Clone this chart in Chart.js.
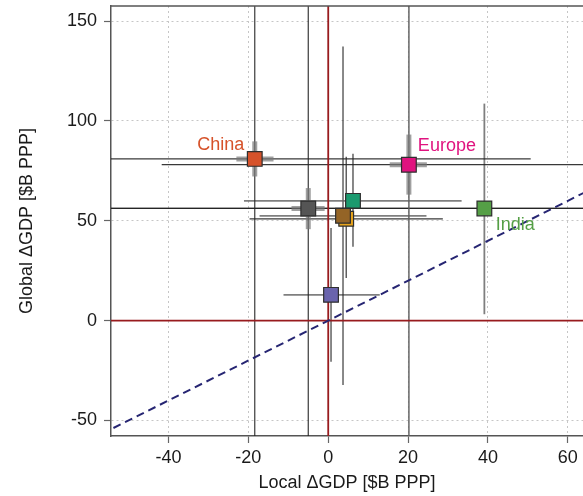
<!DOCTYPE html>
<html>
<head>
<meta charset="utf-8">
<script src="https://cdn.jsdelivr.net/npm/chart.js@4/dist/chart.umd.min.js"></script>
<style>
  html, body { margin: 0; padding: 0; background: #fff; overflow: hidden; }
  canvas { display: block; }
</style>
</head>
<body>
<canvas id="gdp" width="583" height="496"></canvas>
<script>
// regions (unlabelled ones are null)
const regions = ['China', 'Europe', 'India', null, null, null, null, null];
// central estimates
const localGdp  = [-18.4, 20.2, 39.1, -5.0, 6.2, 4.5, 3.7, 0.7];
const globalGdp = [81.0, 78.1, 56.2, 56.2, 60.0, 51.0, 52.5, 12.9];
// wide ranges (thin bars); +-200 means the range runs off the plot
const localLo  = [-200, -41.7, -200, -200, -21.1, -19.7, -17.2, -11.2];
const localHi  = [50.7, 200, 200, 200, 33.4, 28.7, 24.6, 12.9];
const globalLo = [-200, -200, 3.2, -200, 37.0, 21.4, -32.2, -20.6];
const globalHi = [200, 200, 108.7, 200, 83.6, 82.1, 137.3, 46.4];
// inner ranges (thick grey bars), only for some regions
const localQLo  = [-23.0, 15.4, null, -9.2, null, null, null, null];
const localQHi  = [-13.7, 24.7, null, -0.9, null, null, null, null];
const globalQLo = [72.2, 63.1, null, 45.8, null, null, null, null];
const globalQHi = [89.8, 93.2, null, 66.4, null, null, null, null];

const xTicks = [-40, -20, 0, 20, 40, 60];
const yTicks = [-50, 0, 50, 100, 150];

const colors = ['#d6522a', '#e0137f', '#559f46', '#555555', '#1b9a6f', '#e8a41c', '#946426', '#6a64ad'];
const dark = 'rgba(35,35,35,0.9)';
const soft = 'rgba(95,95,95,0.8)';
const hLine = [dark, dark, dark, dark, soft, dark, soft, soft];
const vLine = [dark, soft, soft, dark, dark, dark, dark, dark];
// label offsets from the marker, px
const labelShift = [[-34, -9], [38, -14], [31, 22]];

const font = '"Liberation Sans", Arial, sans-serif';

function seg(p1, p2, color, width, order, dash) {
  return {
    type: 'scatter', showLine: true, data: [p1, p2],
    borderColor: color, borderWidth: width, borderDash: dash || [],
    pointRadius: 0, pointHoverRadius: 0, order: order
  };
}

const datasets = [];
// squares on top (lowest order is drawn last)
datasets.push({
  type: 'scatter',
  data: localGdp.map((v, i) => ({ x: v, y: globalGdp[i] })),
  pointStyle: 'rect', pointRadius: 10.4, pointHoverRadius: 10.4,
  backgroundColor: colors, borderColor: '#2e2e2e', borderWidth: 1.2, order: 0
});
// identity line
datasets.push(seg({ x: -80, y: -80 }, { x: 90, y: 90 }, '#272673', 2, 1, [8, 5]));
// zero lines
datasets.push(seg({ x: 0, y: -200 }, { x: 0, y: 200 }, '#981b1e', 1.8, 2));
datasets.push(seg({ x: -200, y: 0 }, { x: 200, y: 0 }, '#981b1e', 1.8, 2));

regions.forEach((r, i) => {
  const cx = localGdp[i], cy = globalGdp[i];
  datasets.push(seg({ x: localLo[i], y: cy }, { x: localHi[i], y: cy }, hLine[i], hLine[i] === dark ? 1.2 : 1.8, 4));
  datasets.push(seg({ x: cx, y: globalLo[i] }, { x: cx, y: globalHi[i] }, vLine[i], vLine[i] === dark ? 1.2 : 1.8, 4));
  if (localQLo[i] !== null) {
    datasets.push(seg({ x: localQLo[i], y: cy }, { x: localQHi[i], y: cy }, 'rgba(120,120,120,0.7)', 5, 3));
    datasets.push(seg({ x: cx, y: globalQLo[i] }, { x: cx, y: globalQHi[i] }, 'rgba(120,120,120,0.7)', 5, 3));
  }
});

const frame = {
  id: 'frame',
  afterDatasetsDraw(chart) {
    const { ctx, chartArea: a, scales: { x, y } } = chart;
    ctx.save();
    ctx.strokeStyle = '#555';
    ctx.lineWidth = 1.5;
    ctx.beginPath();
    ctx.moveTo(a.left, a.top);
    ctx.lineTo(a.right, a.top);
    ctx.stroke();
    ctx.font = '18px ' + font;
    ctx.textAlign = 'center';
    ctx.textBaseline = 'alphabetic';
    regions.forEach((name, i) => {
      if (!name) return;
      ctx.fillStyle = colors[i];
      ctx.fillText(name,
        x.getPixelForValue(localGdp[i]) + labelShift[i][0],
        y.getPixelForValue(globalGdp[i]) + labelShift[i][1]);
    });
    ctx.restore();
  }
};

const axisCommon = {
  type: 'linear',
  border: { display: true, color: '#555', width: 1.5, dash: [2, 3] },
  grid: { color: '#c6c6c6', lineWidth: 1, tickColor: '#666', tickLength: 7, tickWidth: 1.2 },
  ticks: { color: '#1a1a1a', font: { size: 18, family: font } }
};

new Chart(document.getElementById('gdp'), {
  type: 'scatter',
  data: { datasets: datasets },
  options: {
    responsive: false,
    animation: false,
    layout: { padding: { top: 6, left: 0, right: 0, bottom: 0 }, autoPadding: false },
    plugins: { legend: { display: false }, tooltip: { enabled: false } },
    scales: {
      x: Object.assign({}, axisCommon, {
        min: -54.4, max: 63.8,
        ticks: Object.assign({}, axisCommon.ticks, { padding: 4, maxRotation: 0 }),
        afterBuildTicks: s => { s.ticks = xTicks.map(v => ({ value: v })); },
        afterFit: s => { s.height = 60; },
        title: { display: true, text: 'Local ΔGDP [$B PPP]', color: '#1a1a1a', font: { size: 18, family: font }, padding: { top: 2, bottom: 2 } }
      }),
      y: Object.assign({}, axisCommon, {
        min: -57.8, max: 157.6,
        ticks: Object.assign({}, axisCommon.ticks, { padding: 7 }),
        afterBuildTicks: s => { s.ticks = yTicks.map(v => ({ value: v })); },
        afterFit: s => { s.width = 111; s.paddingTop = 0; s.paddingBottom = 0; },
        title: { display: true, text: 'Global ΔGDP [$B PPP]', color: '#1a1a1a', font: { size: 18, family: font }, padding: { top: 16, bottom: 0 } }
      })
    }
  },
  plugins: [frame]
});
</script>
</body>
</html>
